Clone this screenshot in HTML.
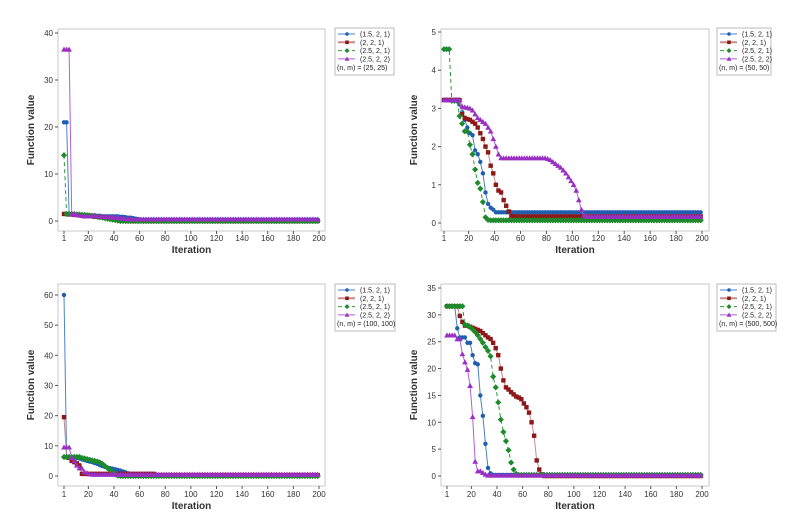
<!DOCTYPE html>
<html><head><meta charset="utf-8">
<style>
html,body{margin:0;padding:0;background:#fff;}
svg{display:block;font-family:"Liberation Sans",sans-serif;}
</style></head>
<body>
<svg id="chart" width="808" height="523" viewBox="0 0 808 523" xmlns="http://www.w3.org/2000/svg"></svg>
<script>
// Iterations sampled every 2: 1,3,5,...,199
const iterations = [];
for (let i = 1; i <= 199; i += 2) iterations.push(i);
const seriesNames = ["(1.5, 2, 1)", "(2, 2, 1)", "(2.5, 2, 1)", "(2.5, 2, 2)"];
const panelLabels = ["(n, m) = (25, 25)", "(n, m) = (50, 50)", "(n, m) = (100, 100)", "(n, m) = (500, 500)"];

const p1Ticks = [0, 10, 20, 30, 40];
const p1Blue = [21,21,1.5,1.5,1.4,1.4,1.3,1.3,1.3,1.3,1.2,1.2,1.2,1.1,1.1,1.0,1.0,1.0,1.0,1.0,1.0,1.0,0.9,0.9,0.8,0.7,0.7,0.6,0.5,0.4];
const p1BlueTail = 0.3;
const p1Red = [1.5,1.5,1.4,1.4,1.3,1.3,1.2,1.2,1.1,1.1,1.0,1.0,0.9,0.9,0.8,0.8,0.7,0.6,0.5,0.4,0.3,0.2,0.1,0.1,0.05];
const p1RedTail = 0;
const p1Green = [14,1.5,1.5,1.5,1.5,1.4,1.4,1.3,1.3,1.2,1.2,1.1,1.0,0.9,0.8,0.7,0.6,0.5,0.4,0.3,0.2,0.1];
const p1GreenTail = 0;
const p1Purple = [36.5,36.5,36.5,1.5,1.4,1.3,1.2,1.1,1.0,1.0,1.0,1.0,1.0,1.0,1.0,0.9,0.9,0.9,0.8,0.8,0.7,0.7,0.6,0.5,0.5,0.4,0.4];
const p1PurpleTail = 0.35;

const p2Ticks = [0, 1, 2, 3, 4, 5];
const p2Blue = [3.22,3.22,3.22,3.22,3.22,3.22,3.1,2.9,2.7,2.5,2.35,2.3,1.9,1.8,1.6,1.3,0.8,0.5,0.4,0.35,0.28];
const p2BlueTail = 0.28;
const p2Red = [3.22,3.22,3.22,3.22,3.22,3.22,3.22,2.85,2.75,2.72,2.7,2.65,2.6,2.5,2.35,2.2,2.0,1.85,1.5,1.3,1.0,0.85,0.8,0.6,0.45,0.3,0.18];
const p2RedTail = 0.17;
const p2Green = [4.55,4.55,4.55,3.2,3.2,3.2,2.8,2.6,2.4,2.4,2.05,1.8,1.4,1.05,0.9,0.55,0.15,0.08];
const p2GreenTail = 0.07;
const p2Purple = [3.22,3.22,3.22,3.22,3.22,3.22,3.22,3.05,3.03,3.02,3.0,2.95,2.85,2.75,2.7,2.65,2.6,2.5,2.4,2.2,2.0,1.8,
  1.7,1.7,1.7,1.7,1.7,1.7,1.7,1.7,1.7,1.7,1.7,1.7,1.7,1.7,1.7,1.7,1.7,1.7,
  1.68,1.65,1.6,1.55,1.5,1.45,1.38,1.3,1.2,1.1,1.0,0.85,0.6,0.35,0.2];
const p2PurpleTail = 0.17;

const p3Ticks = [0, 10, 20, 30, 40, 50, 60];
const p3Blue = [60,6.3,6.3,6.2,6.1,6.0,5.8,5.5,5.3,5.0,4.8,4.6,4.3,4.0,3.6,3.3,3.0,2.8,2.6,2.4,2.2,2.0,1.8,1.5,1.2,0.9,0.6,0.4];
const p3BlueTail = 0.3;
const p3Red = [19.5,6.3,6.0,5.0,4.6,4.2,3.5,0.7,0.7,0.7,0.7,0.7,0.7,0.7,0.7,0.7,0.7,0.7,0.7,0.7,0.7,0.7,0.7,0.7,0.7,0.7,0.7,0.7,0.7,0.7,0.7,0.7,0.7,0.7,0.7,0.7];
const p3RedTail = 0.3;
const p3Green = [6.3,6.3,6.3,6.3,6.3,6.3,6.3,6.0,5.8,5.6,5.4,5.2,5.0,4.8,4.5,4.0,3.3,2.6,2.0,1.3,0.5,0.1];
const p3GreenTail = 0;
const p3Purple = [9.5,9.5,9.5,6,5,3.5,2.6,2.5,1.3,1.0,0.6];
const p3PurpleTail = 0.5;

const p4Ticks = [0, 5, 10, 15, 20, 25, 30, 35];
const p4Blue = [31.6,31.6,31.6,31.6,27.5,25.8,25.8,25.8,24.8,24.8,22.5,21,20.8,15,11.2,6,1.5,0.5];
const p4BlueTail = 0.2;
const p4Red = [31.6,31.6,31.6,31.6,31.6,29.8,28.7,28,28,27.8,27.6,27.4,27.2,27,26.6,26.2,25.8,25.5,24.8,23.8,22.5,20,17.8,16.5,16.1,15.6,15.2,14.8,14.6,14.3,13.5,12.8,11.8,10,7.5,2.9,1.2,0.3];
const p4RedTail = 0;
const p4Green = [31.6,31.6,31.6,31.6,31.6,31.6,31.6,28.2,28,27.7,27.3,26.8,26.2,25.5,24.8,24,23.3,22.3,18.5,16.5,13.7,10.5,8.2,6.5,4.8,2.5,1.2,0.4];
const p4GreenTail = 0.2;
const p4Purple = [26.2,26.2,26.2,26.2,25.5,25.5,22.7,21.2,19.8,16.8,11,2.7,0.9,0.9,0.6,0.3];
const p4PurpleTail = 0.1;

const xTicks = [1, 20, 40, 60, 80, 100, 120, 140, 160, 180, 200];

function full(head, tail){ const a = head.slice(); while (a.length < iterations.length) a.push(tail); return a; }

const panels = [
  {frame:[58,29,325,231], x1:64, x200:319, y0:221, yTop:33, yMaxTick:40, ticks:p1Ticks, legend:[335,28], tickY:241, titleY:253, label:panelLabels[0],
   data:[full(p1Blue,p1BlueTail), full(p1Red,p1RedTail), full(p1Green,p1GreenTail), full(p1Purple,p1PurpleTail)]},
  {frame:[441,29,709,231], x1:444, x200:702, y0:223, yTop:32, yMaxTick:5, ticks:p2Ticks, legend:[717,28], tickY:241, titleY:253, label:panelLabels[1],
   data:[full(p2Blue,p2BlueTail), full(p2Red,p2RedTail), full(p2Green,p2GreenTail), full(p2Purple,p2PurpleTail)]},
  {frame:[58,284,325,486], x1:64, x200:319, y0:476, yTop:295, yMaxTick:60, ticks:p3Ticks, legend:[335,284], tickY:497, titleY:509, label:panelLabels[2],
   data:[full(p3Blue,p3BlueTail), full(p3Red,p3RedTail), full(p3Green,p3GreenTail), full(p3Purple,p3PurpleTail)]},
  {frame:[441,284,709,486], x1:447, x200:702, y0:476, yTop:288, yMaxTick:35, ticks:p4Ticks, legend:[717,284], tickY:497, titleY:509, label:panelLabels[3],
   data:[full(p4Blue,p4BlueTail), full(p4Red,p4RedTail), full(p4Green,p4GreenTail), full(p4Purple,p4PurpleTail)]}
];

const colors = ["#1f5fae", "#8e1818", "#1d8a2c", "#9a2fc4"];
const lineColors = ["#4a82c8", "#c88a8a", "#2a9a3a", "#b060d8"];
const dashes = ["", "", "4,3", ""];
const NS = "http://www.w3.org/2000/svg";
const svg = document.getElementById("chart");
function el(tag, attrs, parent){ const e = document.createElementNS(NS, tag); for (const k in attrs) e.setAttribute(k, attrs[k]); (parent||svg).appendChild(e); return e; }

function marker(g, k, x, y, s){
  let m;
  if (k === 0) m = el("circle", {cx:x, cy:y, r:s*0.5, fill:colors[0]}, g);
  else if (k === 1) m = el("rect", {x:x-s/2, y:y-s/2, width:s, height:s, fill:colors[1]}, g);
  else if (k === 2) m = el("polygon", {points:`${x},${y-s*0.7} ${x+s*0.7},${y} ${x},${y+s*0.7} ${x-s*0.7},${y}`, fill:colors[2]}, g);
  else m = el("polygon", {points:`${x},${y-s*0.65} ${x+s*0.65},${y+s*0.5} ${x-s*0.65},${y+s*0.5}`, fill:colors[3]}, g);
  return m;
}

panels.forEach((p, pi) => {
  const g = el("g", {});
  
  
  const xs = it => p.x1 + (it - 1) * (p.x200 - p.x1) / 199;
  const ys = v => p.y0 - v * (p.y0 - p.yTop) / p.yMaxTick;
  const [fx0, fy0, fx1, fy1] = p.frame;
  const fr = el("rect", {x:fx0, y:fy0, width:fx1-fx0, height:fy1-fy0, fill:"none", stroke:"#c8c8c8", "stroke-width":1}, g);
  
  
  p.ticks.forEach(t => {
    const y = ys(t);
    el("line", {x1:fx0-3, x2:fx0, y1:y, y2:y, stroke:"#555"}, g);
    const tx = el("text", {x:fx0-5, y:y+3, "font-size":8, fill:"#333", "text-anchor":"end"}, g);
    tx.textContent = t;
    
    
  });
  xTicks.forEach(t => {
    const x = xs(t);
    el("line", {x1:x, x2:x, y1:fy1, y2:fy1+3, stroke:"#555"}, g);
    const tx = el("text", {x:x, y:p.tickY, "font-size":8, fill:"#333", "text-anchor":"middle"}, g);
    tx.textContent = t;
    
    
  });
  const xt = el("text", {x:(fx0+fx1)/2, y:p.titleY, "font-size":10, fill:"#333", "text-anchor":"middle", "font-weight":"bold"}, g);
  xt.textContent = "Iteration";
  
  
  const ycx = fx0 - 24, ycy = (fy0+fy1)/2;
  const yt = el("text", {x:ycx, y:ycy, "font-size":10, fill:"#333", "text-anchor":"middle", "font-weight":"bold", transform:`rotate(-90 ${ycx} ${ycy})`}, g);
  yt.textContent = "Function value";
  
  

  p.data.forEach((vals, k) => {
    const sg = el("g", {}, g);
    
    
    const pts = vals.map((v, i) => xs(iterations[i]).toFixed(1) + "," + ys(v).toFixed(1)).join(" ");
    const pl = el("polyline", {points:pts, fill:"none", stroke:lineColors[k], "stroke-width":1, "stroke-dasharray":dashes[k]}, sg);
    
    
    vals.forEach((v, i) => {
      const m = marker(sg, k, xs(iterations[i]), ys(v), 4.4);
      
      
    });
  });

  const [lx, ly] = p.legend;
  const lg = el("g", {}, g);
  
  
  const lw = pi === 3 ? 59 : (pi === 2 ? 60 : (pi === 1 ? 54 : 59));
  el("rect", {x:lx, y:ly, width:lw, height:47, fill:"#fff", stroke:"#bbb"}, lg);
  seriesNames.forEach((n, k) => {
    const y = ly + 6 + k * 8.3;
    el("line", {x1:lx+3, x2:lx+20, y1:y, y2:y, stroke:lineColors[k], "stroke-width":k===1?2:1, "stroke-dasharray":dashes[k]}, lg);
    marker(lg, k, lx+12, y, 3.6);
    const t = el("text", {x:lx+25, y:y+2.5, "font-size":7, fill:"#222"}, lg);
    t.textContent = n;
    
    
  });
  const lt = el("text", {x:lx+2, y:ly+42, "font-size":7, fill:"#222"}, lg);
  lt.textContent = p.label;
  
  
});
</script>
</body></html>
